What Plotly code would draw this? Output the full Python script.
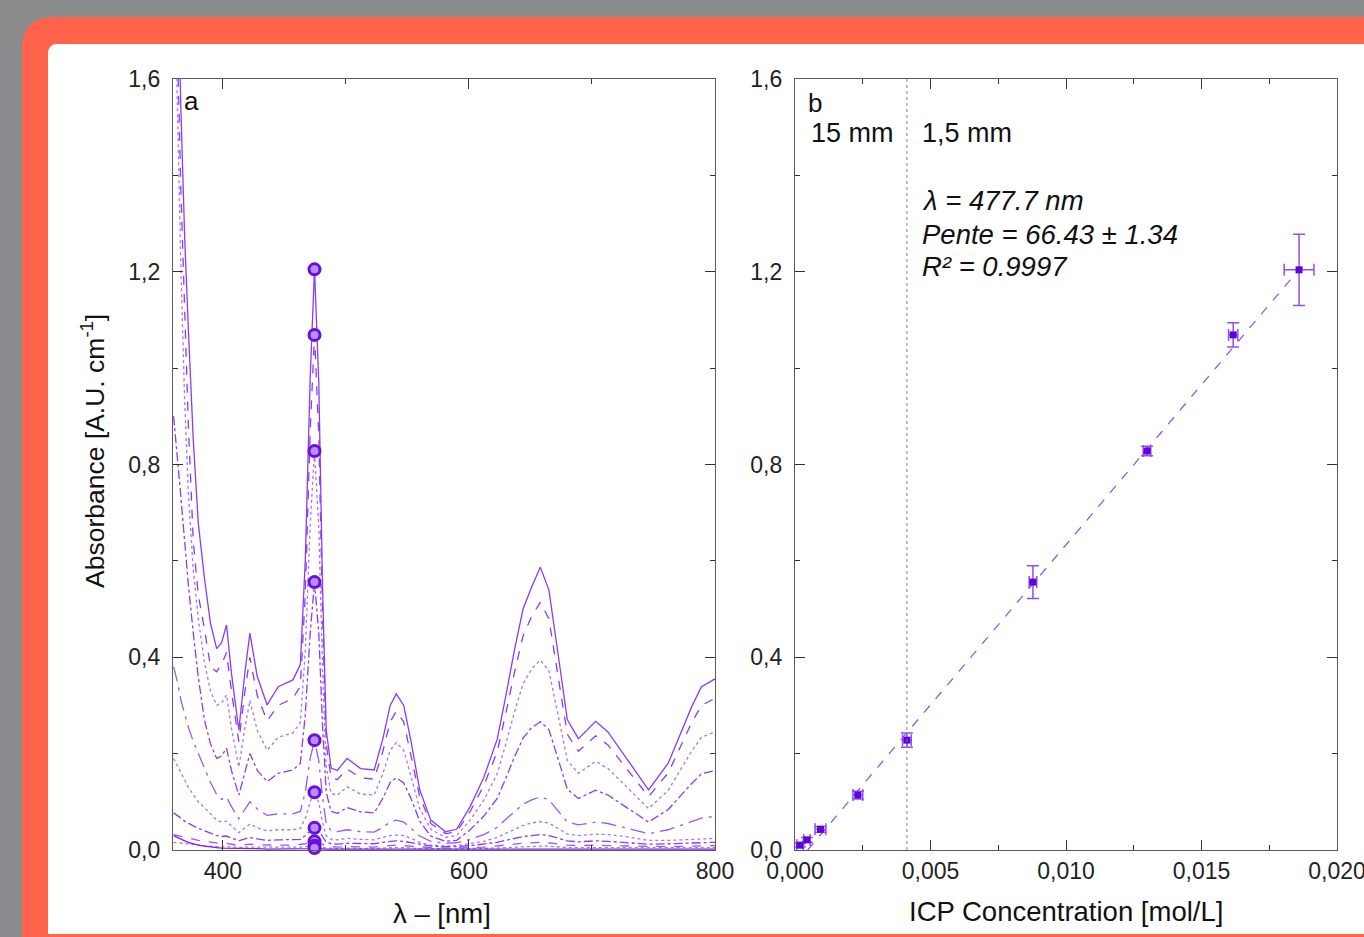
import plotly.graph_objects as go

W, H = 1364, 937

# ---------------- data : panel a (UV-Vis spectra) ----------------
wavelength = [360, 363, 366, 369, 372, 376, 380, 385, 390, 395,
              399, 403, 407, 413, 418, 422, 428, 436, 445, 457,
              463, 467, 471, 474.5, 478, 481, 484, 488, 493, 501,
              512, 523, 530, 536, 541, 547, 553, 560, 569, 581,
              590, 601, 612, 623, 630, 637, 644, 651, 658, 665,
              672, 680, 689, 703, 713, 727, 746, 762, 781, 789, 800]

abs_1 = [2.30, 1.85, 1.53, 1.27, 1.08, 0.85, 0.68, 0.565, 0.47, 0.418,
         0.43, 0.467, 0.367, 0.249, 0.37, 0.45, 0.36, 0.301, 0.339, 0.353,
         0.385, 0.60, 0.98, 1.205, 0.97, 0.55, 0.25, 0.17, 0.165, 0.19,
         0.169, 0.166, 0.23, 0.30, 0.324, 0.30, 0.225, 0.125, 0.062, 0.038,
         0.043, 0.09, 0.15, 0.23, 0.32, 0.415, 0.50, 0.546, 0.587, 0.54,
         0.415, 0.27, 0.231, 0.267, 0.245, 0.194, 0.125, 0.18, 0.297, 0.339, 0.355]

abs_2 = [2.20, 1.68, 1.36, 1.10, 0.88, 0.64, 0.53, 0.46, 0.38, 0.37,
         0.385, 0.41, 0.33, 0.225, 0.33, 0.40, 0.32, 0.268, 0.30, 0.315,
         0.34, 0.53, 0.87, 1.069, 0.86, 0.49, 0.22, 0.15, 0.146, 0.168,
         0.15, 0.147, 0.204, 0.266, 0.288, 0.266, 0.195, 0.111, 0.055, 0.034,
         0.038, 0.08, 0.133, 0.204, 0.284, 0.368, 0.444, 0.485, 0.514, 0.48,
         0.368, 0.24, 0.205, 0.237, 0.218, 0.172, 0.111, 0.16, 0.264, 0.30, 0.315]

abs_3 = [2.00, 1.55, 1.20, 0.93, 0.74, 0.58, 0.48, 0.39, 0.33, 0.30,
         0.305, 0.322, 0.253, 0.172, 0.255, 0.31, 0.248, 0.207, 0.234, 0.243,
         0.265, 0.413, 0.675, 0.828, 0.668, 0.379, 0.172, 0.117, 0.114, 0.131,
         0.116, 0.114, 0.158, 0.207, 0.223, 0.207, 0.152, 0.086, 0.043, 0.026,
         0.03, 0.062, 0.103, 0.158, 0.22, 0.286, 0.345, 0.376, 0.394, 0.372,
         0.286, 0.186, 0.159, 0.184, 0.169, 0.134, 0.086, 0.124, 0.205, 0.234, 0.245]

abs_4 = [0.90, 0.82, 0.73, 0.64, 0.55, 0.45, 0.36, 0.27, 0.22, 0.19,
         0.195, 0.211, 0.165, 0.114, 0.16, 0.20, 0.165, 0.142, 0.159, 0.166,
         0.18, 0.28, 0.45, 0.556, 0.45, 0.26, 0.12, 0.08, 0.076, 0.088,
         0.079, 0.077, 0.107, 0.14, 0.15, 0.139, 0.107, 0.06, 0.029, 0.018,
         0.02, 0.042, 0.07, 0.107, 0.149, 0.193, 0.232, 0.254, 0.266, 0.25,
         0.193, 0.126, 0.107, 0.124, 0.114, 0.09, 0.058, 0.084, 0.138, 0.158, 0.165]

abs_5 = [0.38, 0.35, 0.31, 0.28, 0.255, 0.225, 0.20, 0.17, 0.14, 0.115,
         0.105, 0.11, 0.09, 0.065, 0.085, 0.10, 0.085, 0.072, 0.075, 0.075,
         0.08, 0.12, 0.19, 0.228, 0.185, 0.11, 0.055, 0.04, 0.038, 0.042,
         0.038, 0.037, 0.047, 0.058, 0.062, 0.058, 0.045, 0.029, 0.018, 0.014,
         0.015, 0.022, 0.032, 0.047, 0.064, 0.08, 0.095, 0.104, 0.11, 0.104,
         0.082, 0.058, 0.052, 0.058, 0.055, 0.046, 0.034, 0.042, 0.06, 0.066, 0.07]

abs_6 = [0.19, 0.175, 0.16, 0.145, 0.13, 0.115, 0.10, 0.088, 0.075, 0.062,
         0.058, 0.06, 0.05, 0.036, 0.046, 0.054, 0.046, 0.04, 0.042, 0.042,
         0.045, 0.065, 0.10, 0.12, 0.098, 0.058, 0.03, 0.022, 0.021, 0.024,
         0.022, 0.021, 0.026, 0.03, 0.031, 0.03, 0.024, 0.016, 0.01, 0.008,
         0.009, 0.013, 0.018, 0.026, 0.034, 0.043, 0.051, 0.056, 0.059, 0.056,
         0.045, 0.033, 0.03, 0.033, 0.032, 0.028, 0.02, 0.02, 0.022, 0.023, 0.024]

abs_7 = [0.077, 0.072, 0.066, 0.06, 0.055, 0.05, 0.045, 0.04, 0.035, 0.03,
         0.028, 0.029, 0.025, 0.019, 0.023, 0.026, 0.023, 0.02, 0.021, 0.021,
         0.022, 0.03, 0.04, 0.046, 0.04, 0.028, 0.016, 0.013, 0.012, 0.014,
         0.013, 0.013, 0.016, 0.018, 0.019, 0.018, 0.015, 0.011, 0.008, 0.007,
         0.007, 0.009, 0.012, 0.016, 0.02, 0.024, 0.028, 0.03, 0.032, 0.03,
         0.025, 0.019, 0.017, 0.019, 0.018, 0.016, 0.012, 0.013, 0.015, 0.016, 0.016]

abs_8 = [0.032, 0.03, 0.028, 0.026, 0.024, 0.022, 0.02, 0.018, 0.016, 0.014,
         0.013, 0.014, 0.012, 0.009, 0.011, 0.012, 0.011, 0.01, 0.01, 0.01,
         0.011, 0.013, 0.016, 0.018, 0.016, 0.012, 0.008, 0.007, 0.006, 0.007,
         0.006, 0.006, 0.008, 0.009, 0.01, 0.009, 0.008, 0.006, 0.005, 0.004,
         0.004, 0.005, 0.006, 0.008, 0.01, 0.012, 0.014, 0.015, 0.016, 0.015,
         0.012, 0.01, 0.009, 0.01, 0.009, 0.008, 0.007, 0.007, 0.008, 0.008, 0.009]

abs_9 = [0.016, 0.015, 0.014, 0.013, 0.012, 0.011, 0.01, 0.009, 0.008, 0.007,
         0.006, 0.007, 0.006, 0.005, 0.006, 0.006, 0.006, 0.005, 0.005, 0.005,
         0.006, 0.007, 0.008, 0.009, 0.008, 0.006, 0.004, 0.004, 0.003, 0.004,
         0.003, 0.003, 0.004, 0.005, 0.005, 0.005, 0.004, 0.003, 0.003, 0.002,
         0.002, 0.003, 0.003, 0.004, 0.005, 0.006, 0.007, 0.008, 0.008, 0.008,
         0.006, 0.005, 0.005, 0.005, 0.005, 0.004, 0.004, 0.004, 0.004, 0.005, 0.005]

abs_10 = [0.03, 0.026, 0.022, 0.019, 0.016, 0.013, 0.01, 0.008, 0.006, 0.005,
          0.004, 0.004, 0.003, 0.003, 0.003, 0.003, 0.003, 0.002, 0.002, 0.002,
          0.002, 0.003, 0.003, 0.004, 0.003, 0.002, 0.002, 0.002, 0.002, 0.002,
          0.002, 0.002, 0.002, 0.002, 0.002, 0.002, 0.002, 0.002, 0.002, 0.002,
          0.002, 0.002, 0.002, 0.002, 0.002, 0.002, 0.003, 0.003, 0.003, 0.003,
          0.002, 0.002, 0.002, 0.002, 0.002, 0.002, 0.002, 0.002, 0.002, 0.002, 0.002]

spectra = [abs_1, abs_2, abs_3, abs_4, abs_5, abs_6, abs_7, abs_8, abs_9, abs_10]
peak_wavelength = 474.5

# ---------------- data : panel b (calibration) ----------------
icp_conc = [0.00018, 0.00044, 0.00094, 0.00232, 0.00413, 0.00878, 0.01299, 0.01617, 0.0186]
abs_peak = [0.010, 0.021, 0.043, 0.114, 0.228, 0.556, 0.828, 1.069, 1.204]
err_abs = [0.004, 0.005, 0.006, 0.008, 0.015, 0.034, 0.010, 0.025, 0.074]
err_conc = [0.00012, 0.00012, 0.0002, 0.00018, 0.00016, 0.00014, 0.00014, 0.00017, 0.00055]
fit_slope = 66.43
fit_intercept = -0.031
path_switch_conc = 0.00413   # 15 mm / 1,5 mm cell change

# ---------------- styling ----------------
FONT = "Liberation Sans, Arial, sans-serif"
line_dashes = ["solid", "dash", "dot", "dashdot", "longdashdot",
               "dot", "dashdot", "dash", "dot", "solid"]
line_colors = ["#8a3cf0", "#8a3cf0", "#a774f5", "#8a3cf0", "#9a58f2",
               "#a774f5", "#8a3cf0", "#9a58f2", "#a774f5", "#7d22ec"]


def px(x):
    return x / W


def py(y):
    return 1 - y / H


def path(pts_cmds):
    out = []
    for cmd, *coords in pts_cmds:
        s = cmd
        for i in range(0, len(coords), 2):
            s += f" {px(coords[i]):.5f},{py(coords[i + 1]):.5f}"
        out.append(s)
    return " ".join(out) + " Z"


fig = go.Figure()

# panel a spectra
for i, spec in enumerate(spectra):
    fig.add_trace(go.Scatter(
        x=wavelength, y=spec, mode="lines",
        line=dict(color=line_colors[i], width=1.3, dash=line_dashes[i]),
        xaxis="x", yaxis="y", showlegend=False, hoverinfo="skip"))

idx = wavelength.index(peak_wavelength)
fig.add_trace(go.Scatter(
    x=[peak_wavelength] * len(spectra), y=[s[idx] for s in spectra],
    mode="markers",
    marker=dict(symbol="circle", size=11, color="#b68ef6",
                line=dict(color="#6a0ed8", width=3)),
    xaxis="x", yaxis="y", showlegend=False, cliponaxis=False))

# panel b
fit_x = [-fit_intercept / fit_slope, icp_conc[-1]]
fit_y = [fit_slope * v + fit_intercept for v in fit_x]
fig.add_trace(go.Scatter(
    x=fit_x, y=fit_y, mode="lines",
    line=dict(color="#8a4cf2", width=1.2, dash="dash"),
    xaxis="x2", yaxis="y2", showlegend=False))
fig.add_trace(go.Scatter(
    x=icp_conc, y=abs_peak, mode="markers",
    marker=dict(symbol="square", size=7, color="#6200dc"),
    error_y=dict(type="data", array=err_abs, color="#9050f0", thickness=1.5, width=6),
    error_x=dict(type="data", array=err_conc, color="#9050f0", thickness=1.5, width=6),
    xaxis="x2", yaxis="y2", showlegend=False))
fig.add_trace(go.Scatter(
    x=[path_switch_conc, path_switch_conc], y=[0, 1.6], mode="lines",
    line=dict(color="#808080", width=1, dash="dot"),
    xaxis="x2", yaxis="y2", showlegend=False))

# ---------------- axes ----------------
x1d = [px(173), px(715)]
x2d = [px(795), px(1337)]
yd = [py(850), py(79)]

common = dict(showgrid=False, zeroline=False, showline=True, linecolor="#5a5a5a",
              linewidth=1.3, mirror="ticks", ticks="inside", ticklen=10,
              tickwidth=1.2, tickcolor="#333333", automargin=False,
              ticklabeloverflow="allow",
              tickfont=dict(family=FONT, size=23, color="#222222"))
ycommon = dict(common, ticklabelstandoff=7)
xcommon = dict(common, ticklabelstandoff=0)

fig.update_layout(
    xaxis=dict(domain=x1d, range=[359.5, 800], anchor="y", tickmode="linear",
               tick0=0, dtick=200,
               minor=dict(dtick=100, ticks="inside", ticklen=5, tickcolor="#333333"),
               **xcommon),
    yaxis=dict(domain=yd, range=[0, 1.6], anchor="x", tickmode="linear",
               tick0=0, dtick=0.4, tickformat=".1f",
               minor=dict(dtick=0.2, ticks="inside", ticklen=5, tickcolor="#333333"),
               **ycommon),
    xaxis2=dict(domain=x2d, range=[0, 0.02], anchor="y2", tickmode="linear",
                tick0=0, dtick=0.005, tickformat=".3f",
                minor=dict(dtick=0.0025, ticks="inside", ticklen=5, tickcolor="#333333"),
                **xcommon),
    yaxis2=dict(domain=yd, range=[0, 1.6], anchor="x2", tickmode="linear",
                tick0=0, dtick=0.4, tickformat=".1f",
                minor=dict(dtick=0.2, ticks="inside", ticklen=5, tickcolor="#333333"),
                **ycommon),
)

# ---------------- background frames ----------------
orange = path([("M", 22, 990), ("L", 22, 49), ("Q", 22, 17, 54, 17),
               ("L", 1420, 17), ("L", 1420, 990)])
white = path([("M", 48, 934), ("L", 48, 54), ("Q", 48, 44, 58, 44),
              ("L", 1420, 44), ("L", 1420, 934)])
fig.update_layout(shapes=[
    dict(type="path", path=orange, xref="paper", yref="paper",
         fillcolor="#ff634a", line=dict(width=0), layer="below"),
    dict(type="path", path=white, xref="paper", yref="paper",
         fillcolor="#ffffff", line=dict(width=0), layer="below"),
])

# ---------------- text ----------------
TXT = 27
ann = []
ann.append(dict(text="a", x=367.0, y=1.555, xref="x", yref="y", xanchor="left",
                yanchor="middle", showarrow=False, font=dict(family=FONT, size=26, color="#111")))
ann.append(dict(text="b", x=0.00042, y=1.55, xref="x2", yref="y2", xanchor="left",
                yanchor="middle", showarrow=False, font=dict(family=FONT, size=26, color="#111")))
ann.append(dict(text="15 mm", x=0.00214, y=1.488, xref="x2", yref="y2", xanchor="center",
                yanchor="middle", showarrow=False, font=dict(family=FONT, size=TXT, color="#111")))
ann.append(dict(text="1,5 mm", x=0.00462, y=1.488, xref="x2", yref="y2", xanchor="left",
                yanchor="middle", showarrow=False, font=dict(family=FONT, size=TXT, color="#111")))
for txt, yv in [("<i>λ = 477.7 nm</i>", 1.347),
                ("<i>Pente = 66.43 ± 1.34</i>", 1.278),
                ("<i>R² = 0.9997</i>", 1.21)]:
    ann.append(dict(text=txt, x=0.00462, y=yv, xref="x2", yref="y2", xanchor="left",
                    yanchor="middle", showarrow=False,
                    font=dict(family=FONT, size=27.5, color="#111")))
ann.append(dict(text="Absorbance [A.U. cm<sup>-1</sup>]", x=px(93), y=py(451),
                xref="paper", yref="paper", textangle=-90, showarrow=False,
                xanchor="center", yanchor="middle",
                font=dict(family=FONT, size=26.5, color="#111")))
ann.append(dict(text="λ – [nm]", x=px(442), y=py(913), xref="paper", yref="paper",
                showarrow=False, xanchor="center", yanchor="middle",
                font=dict(family=FONT, size=27.5, color="#111")))
ann.append(dict(text="ICP Concentration [mol/L]", x=px(1066), y=py(911),
                xref="paper", yref="paper", showarrow=False, xanchor="center",
                yanchor="middle", font=dict(family=FONT, size=27.5, color="#111")))

fig.update_layout(
    annotations=ann,
    width=W, height=H, autosize=False,
    margin=dict(l=0, r=0, t=0, b=0, pad=0, autoexpand=False),
    paper_bgcolor="#8a8b8d", plot_bgcolor="#ffffff",
    separators=", ",
    font=dict(family=FONT, color="#111"),
)

fig.write_html("out.html", config={"displayModeBar": False},
               post_script="document.body.style.margin='0';document.body.style.overflow='hidden';")
